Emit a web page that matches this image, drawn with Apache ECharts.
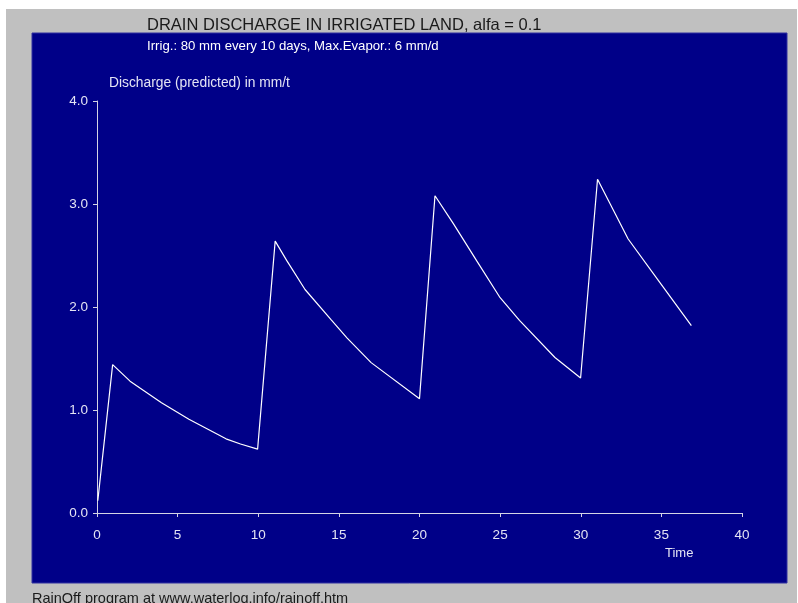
<!DOCTYPE html>
<html>
<head>
<meta charset="utf-8">
<script src="https://cdn.jsdelivr.net/npm/echarts@6/dist/echarts.min.js"></script>
<style>
  html, body { margin: 0; padding: 0; background: #ffffff; }
  #chart { width: 798px; height: 603px; }
</style>
</head>
<body>
<div id="chart"></div>
<script>
// Drain discharge simulation (RainOff): time in days, discharge in mm/t
const timeDays = [0.05, 0.97, 2.05, 4.0, 5.7, 8.0, 8.9, 9.96, 11.05, 11.77, 12.9, 14.5, 15.5, 17.0, 20.0,
                  20.96, 22.1, 23.54, 25.0, 26.2, 28.4, 29.99, 31.04, 32.94, 34.9, 36.86];
const discharge = [0.12, 1.44, 1.28, 1.07, 0.91, 0.72, 0.67, 0.62, 2.64, 2.45, 2.17, 1.88, 1.70, 1.46, 1.11,
                   3.08, 2.81, 2.45, 2.09, 1.87, 1.51, 1.31, 3.24, 2.66, 2.24, 1.82];
const xTicks = [0, 5, 10, 15, 20, 25, 30, 35, 40];
const yTicks = [0, 1, 2, 3, 4];

const titleText = 'DRAIN DISCHARGE IN IRRIGATED LAND, alfa = 0.1';
const subtitleText = 'Irrig.: 80 mm every 10 days, Max.Evapor.: 6 mm/d';
const yName = 'Discharge (predicted) in mm/t';
const xName = 'Time';
const footerText = 'RainOff program at www.waterlog.info/rainoff.htm';

const points = timeDays.map((t, i) => [t, discharge[i]]);
const labelColor = '#e4e4f4';
const axisColor = '#d4d4e4';
const font = 'Liberation Sans, Arial, sans-serif';

function textTitle(text, left, top, size, color) {
  return { text, left, top, padding: 0,
           textStyle: { color, fontSize: size, fontWeight: 'normal', fontFamily: font } };
}

const chart = echarts.init(document.getElementById('chart'));
chart.setOption({
  animation: false,
  backgroundColor: '#ffffff',
  graphic: [
    { type: 'rect', z: -10, shape: { x: 6, y: 9, width: 791, height: 594 }, style: { fill: '#c0c0c0' } },
    { type: 'rect', z: -9, shape: { x: 32, y: 33, width: 755, height: 550 }, style: { fill: '#000088', stroke: '#3030a0', lineWidth: 1 } }
  ],
  title: [
    textTitle(titleText, 147, 17, 16.5, '#1a1a1a'),
    textTitle(subtitleText, 147, 40, 13.2, '#ffffff'),
    textTitle(yName, 109, 76, 13.8, labelColor),
    textTitle(xName, 665, 547, 13, labelColor),
    textTitle(footerText, 32, 591, 14.5, '#1a1a1a')
  ],
  grid: { left: 97, right: 56, top: 101, bottom: 90, containLabel: false },
  xAxis: {
    type: 'value',
    min: xTicks[0],
    max: xTicks[xTicks.length - 1],
    interval: xTicks[1] - xTicks[0],
    axisLine: { show: true, lineStyle: { color: axisColor, width: 1 } },
    axisTick: { show: true, inside: false, length: 4, lineStyle: { color: axisColor } },
    axisLabel: { color: labelColor, fontSize: 13.5, margin: 15, fontFamily: font },
    splitLine: { show: false }
  },
  yAxis: {
    type: 'value',
    min: yTicks[0],
    max: yTicks[yTicks.length - 1],
    interval: yTicks[1] - yTicks[0],
    axisLine: { show: true, lineStyle: { color: axisColor, width: 1 } },
    axisTick: { show: true, inside: false, length: 4, lineStyle: { color: axisColor } },
    axisLabel: { color: labelColor, fontSize: 13.5, margin: 9, fontFamily: font, formatter: v => v.toFixed(1) },
    splitLine: { show: false }
  },
  series: [{
    type: 'line',
    data: points,
    showSymbol: false,
    symbol: 'none',
    lineStyle: { color: '#ffffff', width: 1.2 },
    z: 5
  }]
});
</script>
</body>
</html>
